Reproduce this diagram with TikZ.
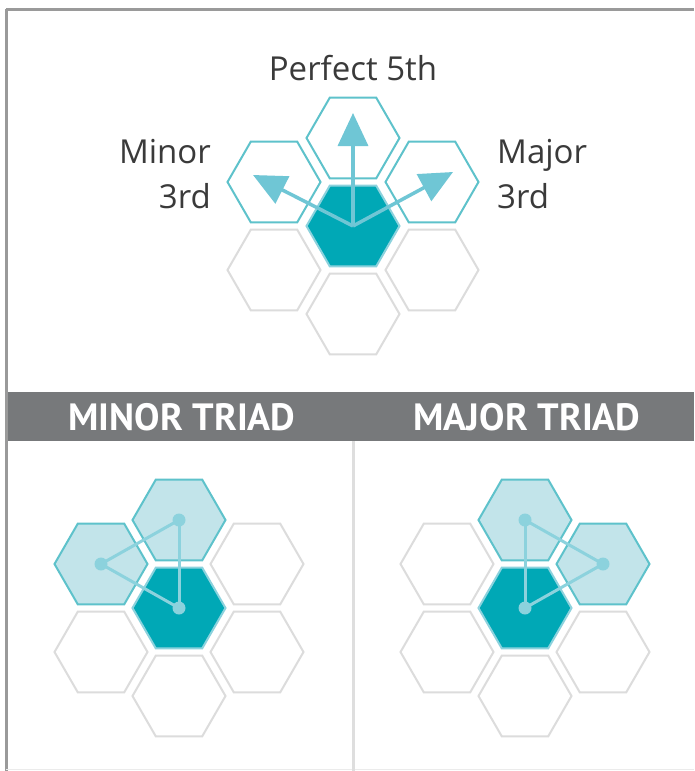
\documentclass[tikz,border=0pt]{standalone}
\usepackage{fontspec}
\setmainfont{Open Sans}
\newfontfamily\bannerfont{PT Sans}
\usetikzlibrary{shapes.geometric,arrows.meta}
\definecolor{tealdark}{HTML}{00A8B6}
\definecolor{tealedge}{HTML}{5EC2CB}
\definecolor{teallight}{HTML}{C2E4EA}
\definecolor{arrowteal}{HTML}{6FC6D5}
\definecolor{triadline}{HTML}{8CD2DD}
\definecolor{hexgray}{HTML}{DCDCDC}
\definecolor{framegray}{HTML}{9A9A9A}
\definecolor{bannergray}{HTML}{77797B}
\definecolor{labelgray}{HTML}{3A3A3A}
\definecolor{dividergray}{HTML}{DEDEDE}
\begin{document}
\begin{tikzpicture}[x=1pt,y=-1pt,
  hexbase/.style={regular polygon, regular polygon sides=6, minimum size=93pt,
    inner sep=0pt, outer sep=0pt, line width=2pt},
  hexroot/.style={hexbase, fill=tealdark, draw=triadline},
  hexopen/.style={hexbase, fill=white, draw=tealedge},
  hexlit/.style={hexbase, fill=teallight, draw=tealedge},
  hexgrey/.style={hexbase, fill=white, draw=hexgray},
  arr/.style={draw=arrowteal, line width=3.5pt,
    -{Triangle[width=30pt,length=33pt]}, arrowteal},
  tline/.style={draw=triadline, line width=3pt},
  tdot/.style={circle, fill=triadline, minimum size=13pt, inner sep=0pt},
  lbl/.style={font=\fontsize{33}{40}\selectfont, text=labelgray, inner sep=0pt},
  bannertxt/.style={font=\bannerfont\bfseries\fontsize{38}{44}\selectfont, text=white, inner sep=0pt}
]
\useasboundingbox (0,0) rectangle (694,771);
\fill[white] (0,0) rectangle (694,771);

% frame
\draw[framegray, line width=3pt] (6,9) -- (694,9);
\draw[framegray, line width=3pt] (6,9) -- (6,771);
\draw[dividergray!60, line width=1.5pt] (6,769.5) -- (694,769.5);

% banner
\fill[bannergray] (7.5,392) rectangle (694,441);
\node[bannertxt, anchor=base] (minT) at (182,430) {MINOR TRIAD};
\node[bannertxt, anchor=base] (majT) at (527,430) {MAJOR TRIAD};

% divider
\draw[dividergray, line width=3pt] (353,441) -- (353,771);

% top cluster
\node[hexgrey] (hLL) at (274,270) {};
\node[hexgrey] (hLR) at (432,270) {};
\node[hexgrey] (hB)  at (353,314) {};
\node[hexopen] (hT)  at (353,138) {};
\node[hexopen] (hUL) at (274,182) {};
\node[hexopen] (hUR) at (432,182) {};
\node[hexroot] (hC)  at (353,226) {};

\coordinate (tipT) at (353,113);
\coordinate (tipL) at (253,175);
\coordinate (tipR) at (453,172);
\draw[arr] (hC.center) -- (tipT);
\draw[arr] (hC.center) -- (tipL);
\draw[arr] (hC.center) -- (tipR);

\node[lbl, anchor=base] (p5) at (353,80) {Perfect 5th};
\node[lbl, anchor=base east] (mi1) at (211,163) {Minor};
\node[lbl, anchor=base east] (mi2) at (211,208) {3rd};
\node[lbl, anchor=base west] (ma1) at (497,163) {Major};
\node[lbl, anchor=base west] (ma2) at (497,208) {3rd};

% minor triad cluster
\node[hexgrey] (aUR) at (257,564) {};
\node[hexgrey] (aLL) at (101,652) {};
\node[hexgrey] (aLR) at (257,652) {};
\node[hexgrey] (aB)  at (179,696) {};
\node[hexlit]  (aT)  at (179,520) {};
\node[hexlit]  (aUL) at (101,564) {};
\node[hexroot] (aC)  at (179,608) {};
\draw[tline] (aT.center) -- (aUL.center);
\draw[tline] (aT.center) -- (aC.center);
\draw[tline] (aUL.center) -- (aC.center);
\node[tdot] (daT) at (aT.center) {};
\node[tdot] (daUL) at (aUL.center) {};
\node[tdot] (daC) at (aC.center) {};

% major triad cluster
\node[hexgrey] (bUL) at (447,564) {};
\node[hexgrey] (bLL) at (447,652) {};
\node[hexgrey] (bLR) at (603,652) {};
\node[hexgrey] (bB)  at (525,696) {};
\node[hexlit]  (bT)  at (525,520) {};
\node[hexlit]  (bUR) at (603,564) {};
\node[hexroot] (bC)  at (525,608) {};
\draw[tline] (bT.center) -- (bUR.center);
\draw[tline] (bT.center) -- (bC.center);
\draw[tline] (bUR.center) -- (bC.center);
\node[tdot] (dbT) at (bT.center) {};
\node[tdot] (dbUR) at (bUR.center) {};
\node[tdot] (dbC) at (bC.center) {};
\end{tikzpicture}
\end{document}
